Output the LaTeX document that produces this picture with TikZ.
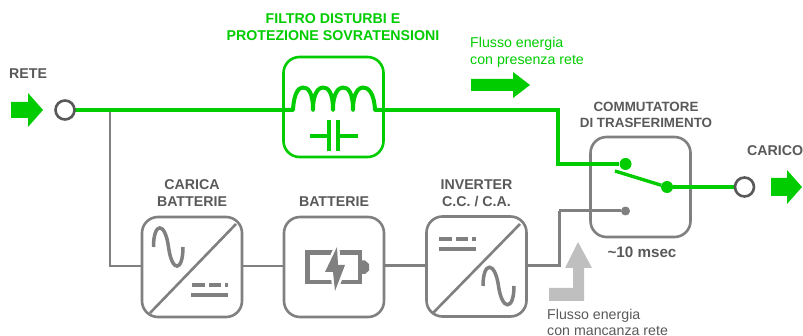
\documentclass[tikz,border=0pt]{standalone}
\usepackage{fontspec}
\setmainfont{Liberation Sans}
\definecolor{grn}{HTML}{00CC00}
\definecolor{gry}{HTML}{808080}
\definecolor{dk}{HTML}{595959}
\definecolor{lgry}{HTML}{BFBFBF}
\tikzset{
 x=1pt,y=-1pt,
 blockbox/.style={draw=gry,line width=2.6pt,rounded corners=16pt,minimum width=100pt,minimum height=100pt,fill=white,inner sep=0pt},
 greenbox/.style={blockbox,draw=grn},
 term/.style={circle,draw=dk,line width=2.6pt,fill=white,minimum size=19pt,inner sep=0pt},
 bigdot/.style={circle,fill=grn,minimum size=12pt,inner sep=0pt},
 smalldot/.style={circle,fill=gry,minimum size=9pt,inner sep=0pt},
 mainline/.style={draw=grn,line width=4pt},
 thinline/.style={draw=gry,line width=2pt},
 midline/.style={draw=gry,line width=3pt},
 title/.style={font=\bfseries\fontsize{14.2}{16.5}\selectfont,text=dk,align=center,inner sep=0pt},
 gtitle/.style={font=\bfseries\fontsize{14.2}{17}\selectfont,text=grn,align=center,inner sep=0pt},
 note/.style={font=\fontsize{14.2}{17}\selectfont,align=left,inner sep=0pt},
 icon/.style={draw=gry,line width=3.5pt},
}
\begin{document}
\begin{tikzpicture}
\useasboundingbox (0,0) rectangle (803,336);
% blocks
\node[blockbox] (charger) at (192,267) {};
\node[blockbox] (batt) at (334,267) {};
\node[blockbox] (inv) at (476.5,266.5) {};
\node[blockbox] (sw) at (640.5,187) {};
\node[greenbox] (filt) at (333.5,107) {};
\coordinate (rc) at (65,110);
\coordinate (tap) at (109.5,110);
\coordinate (cL) at (293,110);
\coordinate (cR) at (375,110);
\coordinate (k1) at (558,110);
\coordinate (k2) at (558,164);
\coordinate (k3) at (559,211);
% connectors
\draw[thinline] (tap) |- (charger.west |- 0,266);
\draw[thinline] (charger.east |- 0,266) -- (batt.west |- 0,266);
\draw[midline] (batt.east |- 0,266) -- (inv.west |- 0,266);
\draw[midline] (inv.east |- 0,266) -| (k3);
\node[smalldot] (d3) at (625.5,211) {};
\draw[midline] (k3) -- (d3);
% green
\draw[mainline] (rc) -- (filt.west |- rc);
\draw[mainline] (filt.east |- cR) -- (k1) -- (k2);
\node[bigdot] (d1) at (625.5,164) {};
\node[bigdot] (d2) at (667,187) {};
\coordinate (bladeend) at (615,171);
\draw[mainline] (k2) ++(-2,0) -- (d1);
\draw[draw=grn,line width=3.4pt] (bladeend) -- (d2);
\coordinate (cc) at (744.5,187);
\draw[mainline] (d2) -- (cc);
\node[term] (carico) at (cc) {};
\node[term] (rete) at (rc) {};
% inductor
\draw[draw=grn,line width=4pt,line join=round] (filt.west |- cL) -- (cL)
 .. controls (294,92) and (299,87.5) .. (303,87.5) .. controls (308,87.5) and (313,92) .. (313,110)
 .. controls (313,92) and (319,87.5) .. (323,87.5) .. controls (328,87.5) and (333,92) .. (333,110)
 .. controls (333,92) and (339,87.5) .. (343,87.5) .. controls (348,87.5) and (353,92) .. (353,110)
 .. controls (353,92) and (359,87.5) .. (363,87.5) .. controls (368,87.5) and (374,92) .. (375,110) -- (filt.east |- cR);
% capacitor
\draw[draw=grn,line width=4.4pt] (310,136) -- (329,136) (338,136) -- (358,136) (329,120) -- (329,151) (338,120) -- (338,151);
% charger icon
\draw[thinline,line width=2.6pt] (150,313) -- (236,224);
\draw[icon] (153.5,247) .. controls (153.5,222) and (165,221) .. (168.5,247) .. controls (172,273) and (183,272) .. (183,247);
\draw[icon] (192,285) -- (205,285) (209,285) -- (221,285) (225,285) -- (228,285);
\draw[icon] (191,295) -- (228,295);
% battery icon
\draw[icon,line width=4.2pt] (307.5,252.5) rectangle (360,282);
\fill[gry] (361,260.5) -- (365,260.5) -- (369,264) -- (369,270.5) -- (365,274) -- (361,274) -- cycle;
\filldraw[fill=gry,draw=white,line width=5pt,line join=miter] (337,247) -- (325,272) -- (333,272) -- (335,291) -- (345,265) -- (338,265) -- cycle;
\fill[gry] (337,247) -- (325,272) -- (333,272) -- (335,291) -- (345,265) -- (338,265) -- cycle;
% inverter icon
\draw[thinline,line width=2.6pt] (433,313) -- (520,224);
\draw[icon] (483,286) .. controls (483,261) and (495,261) .. (498.5,286) .. controls (502,311) and (514,311) .. (514,286);
\draw[icon] (439,239) -- (452,239) (456,239) -- (468,239) (472,239) -- (476,239);
\draw[icon] (439,249) -- (476,249);
% flow arrows
\fill[grn] (11,102) -- (28,102) -- (28,93) -- (43,110) -- (28,127) -- (28,118) -- (11,118) -- cycle;
\fill[grn] (771,178) -- (787,178) -- (787,170) -- (802,187) -- (787,204) -- (787,196) -- (771,196) -- cycle;
\fill[grn] (471,79) -- (513,79) -- (513,72) -- (530,85) -- (513,98) -- (513,91) -- (471,91) -- cycle;
\fill[lgry] (549,288) -- (573,288) -- (573,268) -- (565,268) -- (578,242) -- (592,268) -- (584,268) -- (584,301) -- (549,301) -- cycle;
% texts
\node[title,anchor=west] (t1) at (9,74) {RETE};
\node[title] (t2) at (192,193) {CARICA\\BATTERIE};
\node[title] (t3) at (334,202) {BATTERIE};
\node[title] (t4) at (476.5,193.5) {INVERTER\\C.C. / C.A.};
\node[title,font=\bfseries\fontsize{13.4}{16}\selectfont] (t5) at (646,114.5) {COMMUTATORE\\DI TRASFERIMENTO};
\node[title,font=\bfseries\fontsize{15.2}{17}\selectfont] (t6) at (642,252) {\textasciitilde10 msec};
\node[title,anchor=west] (t7) at (747,151) {CARICO};
\node[gtitle] (t8) at (333,27) {FILTRO DISTURBI E\\PROTEZIONE SOVRATENSIONI};
\node[note,anchor=west,text=grn] (t9) at (470,52.5) {Flusso energia\\con presenza rete};
\node[note,anchor=west,text=dk,font=\fontsize{14.2}{15.5}\selectfont] (t10) at (547,322.5) {Flusso energia\\con mancanza rete};
\end{tikzpicture}
\end{document}
